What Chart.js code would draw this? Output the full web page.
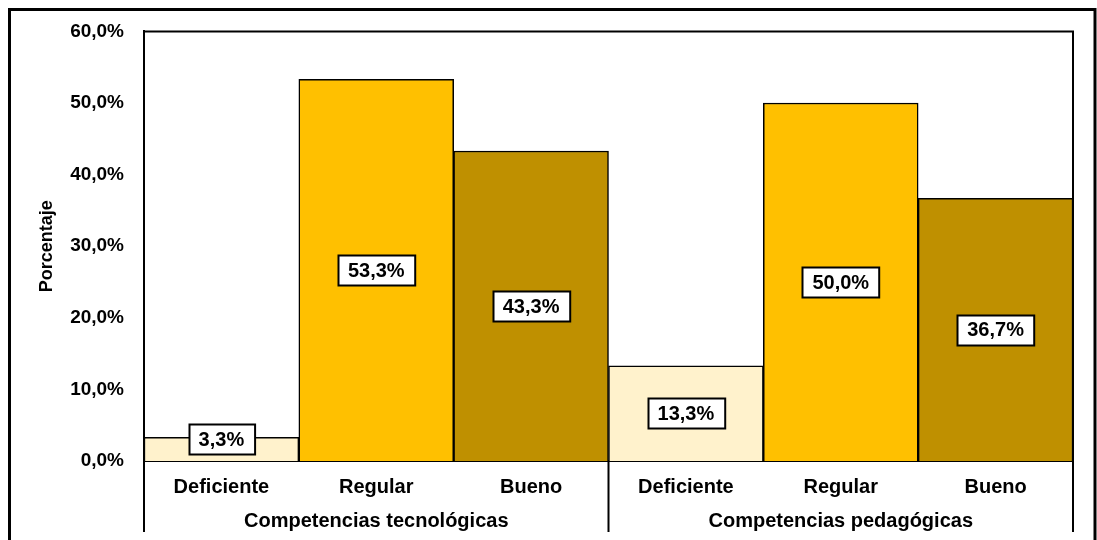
<!DOCTYPE html>
<html>
<head>
<meta charset="utf-8">
<script src="https://cdn.jsdelivr.net/npm/chart.js@4/dist/chart.umd.min.js"></script>
<style>
  html, body { margin: 0; padding: 0; background: #fff; }
  #wrap { width: 1097px; height: 540px; position: relative; }
</style>
</head>
<body>
<div id="wrap"><canvas id="myChart"></canvas></div>
<script>
const categories = ["Deficiente", "Regular", "Bueno", "Deficiente", "Regular", "Bueno"];
const groups = ["Competencias tecnológicas", "Competencias pedagógicas"];
const values = [3.3, 53.3, 43.3, 13.3, 50.0, 36.7];
const yTickLabels = ["0,0%", "10,0%", "20,0%", "30,0%", "40,0%", "50,0%", "60,0%"];
const barColors = ["#FFF2CC", "#FFC000", "#BF9000", "#FFF2CC", "#FFC000", "#BF9000"];

const FONT = "'Liberation Sans', Arial, sans-serif";

const formatPct = (v) => v.toFixed(1).replace(".", ",") + "%";

// marco exterior, borde del área y separadores de grupo
const framePlugin = {
  id: "frame",
  beforeDraw(chart) {
    const c = chart.ctx;
    c.save();
    c.fillStyle = "#fff";
    c.fillRect(0, 0, chart.width, chart.height);
    c.restore();
  },
  afterDraw(chart) {
    const c = chart.ctx;
    const a = chart.chartArea;
    c.save();
    c.strokeStyle = "#000";
    c.lineWidth = 3;
    c.strokeRect(9.5, 9.5, 1085.5, 700);
    c.lineWidth = 2;
    c.beginPath();
    c.moveTo(a.left, a.top);
    c.lineTo(a.right, a.top);
    c.lineTo(a.right, 532);
    c.moveTo(a.left, a.top);
    c.lineTo(a.left, 532);
    const mid = (a.left + a.right) / 2;
    c.moveTo(mid, a.bottom);
    c.lineTo(mid, 532);
    c.stroke();
    c.restore();
  },
};

// etiquetas de valor en caja blanca
const labelPlugin = {
  id: "valueLabels",
  afterDatasetsDraw(chart) {
    const c = chart.ctx;
    const meta = chart.getDatasetMeta(0);
    c.save();
    c.font = "bold 20px " + FONT;
    c.textAlign = "center";
    c.textBaseline = "middle";
    meta.data.forEach((bar, i) => {
      const text = formatPct(values[i]);
      const w = c.measureText(text).width + 20;
      const h = 30;
      let cy = (bar.y + bar.base) / 2;
      cy = Math.min(cy, bar.base - 22);
      const x0 = Math.round(bar.x - w / 2) + 0.5;
      const y0 = Math.round(cy - h / 2) + 0.5;
      c.fillStyle = "#fff";
      c.fillRect(x0, y0, w, h);
      c.strokeStyle = "#000";
      c.lineWidth = 2;
      c.strokeRect(x0, y0, w, h);
      c.fillStyle = "#000";
      c.fillText(text, bar.x, cy + 1);
    });
    c.restore();
  },
};

const ctx = document.getElementById("myChart").getContext("2d");
new Chart(ctx, {
  type: "bar",
  data: {
    labels: categories,
    datasets: [
      {
        data: values,
        backgroundColor: barColors,
        borderColor: "#000",
        borderWidth: 1.5,
        categoryPercentage: 1,
        barPercentage: 1,
      },
    ],
  },
  options: {
    responsive: true,
    maintainAspectRatio: false,
    animation: false,
    layout: { padding: { top: 31, right: 24, left: 0, bottom: 0 } },
    plugins: {
      legend: { display: false },
      tooltip: { enabled: false },
    },
    scales: {
      y: {
        min: 0,
        max: 60,
        ticks: {
          stepSize: 10,
          padding: 20,
          color: "#000",
          font: { family: FONT, size: 19, weight: "bold" },
          callback: (v, i) => yTickLabels[i],
        },
        grid: { display: false, drawTicks: false },
        border: { display: true, color: "#000", width: 2 },
        title: {
          display: true,
          text: "Porcentaje",
          color: "#000",
          padding: { top: 36, bottom: 0 },
          font: { family: FONT, size: 18, weight: "bold" },
        },
        afterFit: (s) => { s.width = 144; },
      },
      x: {
        weight: 0,
        ticks: {
          padding: 14,
          color: "#000",
          font: { family: FONT, size: 20, weight: "bold" },
          maxRotation: 0,
        },
        grid: { display: false, drawTicks: false },
        border: { display: true, color: "#000", width: 2 },
        afterFit: (s) => { s.height = 40; },
      },
      x2: {
        type: "category",
        position: "bottom",
        weight: 1,
        labels: groups,
        offset: true,
        ticks: {
          padding: 8,
          color: "#000",
          font: { family: FONT, size: 20, weight: "bold" },
          maxRotation: 0,
        },
        grid: { display: false, drawTicks: false },
        border: { display: false },
        afterFit: (s) => { s.height = 39; },
      },
    },
  },
  plugins: [framePlugin, labelPlugin],
});
</script>
</body>
</html>
